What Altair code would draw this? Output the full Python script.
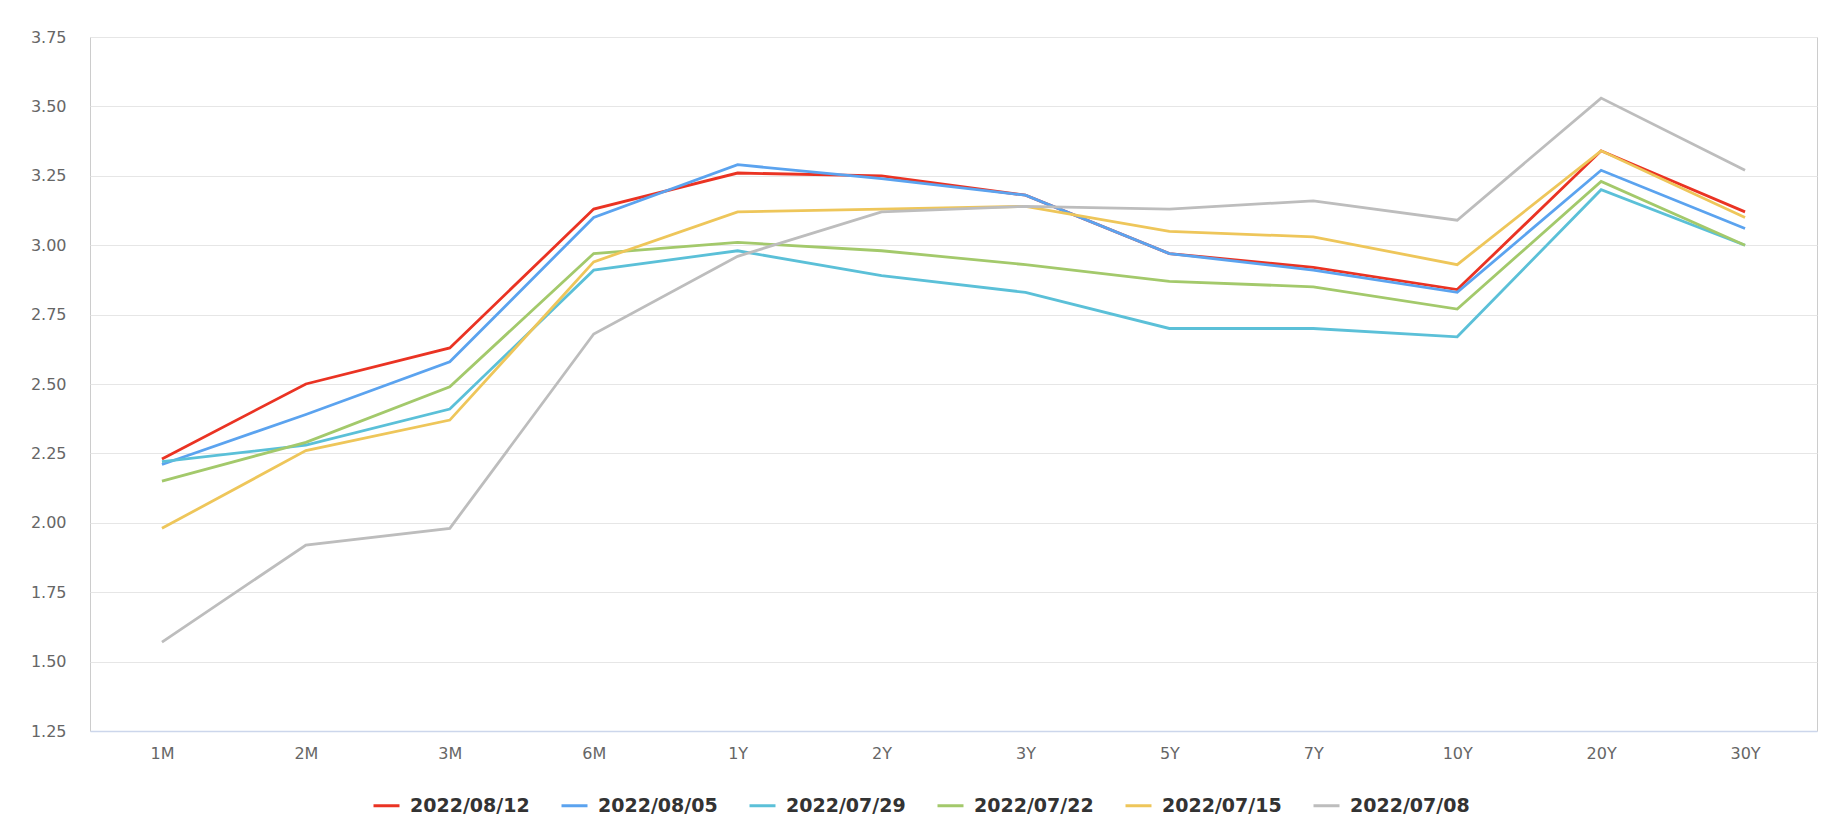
import altair as alt
import pandas as pd

tenors = ["1M", "2M", "3M", "6M", "1Y", "2Y", "3Y", "5Y", "7Y", "10Y", "20Y", "30Y"]
dates = ["2022/08/12", "2022/08/05", "2022/07/29", "2022/07/22", "2022/07/15", "2022/07/08"]
colors = ["#ea3323", "#5ba3ef", "#5bc0d8", "#a3c96b", "#eec65a", "#bdbdbd"]

y_0812 = [2.23, 2.50, 2.63, 3.13, 3.26, 3.25, 3.18, 2.97, 2.92, 2.84, 3.34, 3.12]
y_0805 = [2.21, 2.39, 2.58, 3.10, 3.29, 3.24, 3.18, 2.97, 2.91, 2.83, 3.27, 3.06]
y_0729 = [2.22, 2.28, 2.41, 2.91, 2.98, 2.89, 2.83, 2.70, 2.70, 2.67, 3.20, 3.00]
y_0722 = [2.15, 2.29, 2.49, 2.97, 3.01, 2.98, 2.93, 2.87, 2.85, 2.77, 3.23, 3.00]
y_0715 = [1.98, 2.26, 2.37, 2.94, 3.12, 3.13, 3.14, 3.05, 3.03, 2.93, 3.34, 3.10]
y_0708 = [1.57, 1.92, 1.98, 2.68, 2.96, 3.12, 3.14, 3.13, 3.16, 3.09, 3.53, 3.27]
y_ticks = [1.25, 1.50, 1.75, 2.00, 2.25, 2.50, 2.75, 3.00, 3.25, 3.50, 3.75]

series = [y_0812, y_0805, y_0729, y_0722, y_0715, y_0708]
rows = []
for d, vals in zip(dates, series):
    for t, v in zip(tenors, vals):
        rows.append({"date": d, "tenor": t, "yield": v})
df = pd.DataFrame(rows)

color = alt.Color(
    "date:N",
    scale=alt.Scale(domain=dates, range=colors),
    legend=alt.Legend(
        title=None,
        orient="none",
        legendX=282,
        legendY=754,
        direction="horizontal",
        columns=6,
        symbolType="stroke",
        symbolSize=676,
        symbolStrokeWidth=3,
        labelFont="DejaVu Sans",
        labelFontSize=19,
        labelFontWeight="bold",
        labelColor="#333333",
        labelOffset=9,
        columnPadding=25,
        padding=0,
        labelLimit=0,
    ),
)
x = alt.X(
    "tenor:N",
    sort=tenors,
    scale=alt.Scale(padding=0.5),
    axis=alt.Axis(
        title=None,
        labelAngle=0,
        labelFont="DejaVu Sans",
        labelFontSize=16,
        labelColor="#666666",
        tickSize=0,
        labelPadding=14,
        grid=False,
        domainColor="#ccd6eb",
        domainWidth=1.5,
    ),
)
y = alt.Y(
    "yield:Q",
    scale=alt.Scale(domain=[1.25, 3.75], nice=False, zero=False),
    axis=alt.Axis(
        title=None,
        values=y_ticks,
        format=".2f",
        labelFont="DejaVu Sans",
        labelFontSize=16,
        labelColor="#666666",
        tickSize=0,
        labelPadding=24,
        domain=False,
        gridColor="#e6e6e6",
        gridWidth=1,
    ),
)

layers = [
    alt.Chart(df)
    .transform_filter(alt.datum.date == d)
    .mark_line(strokeWidth=2.8)
    .encode(x=x, y=y, color=color)
    for d in dates
]

chart = (
    alt.layer(*layers)
    .properties(
        width=1727,
        height=694,
        autosize=alt.AutoSizeParams(type="none"),
        padding={"left": 90, "top": 37, "right": 21, "bottom": 107},
        background="white",
    )
    .configure_view(stroke="#cccccc", strokeWidth=1)
)

chart.save("out.html", embed_options={"renderer": "svg", "actions": False})
